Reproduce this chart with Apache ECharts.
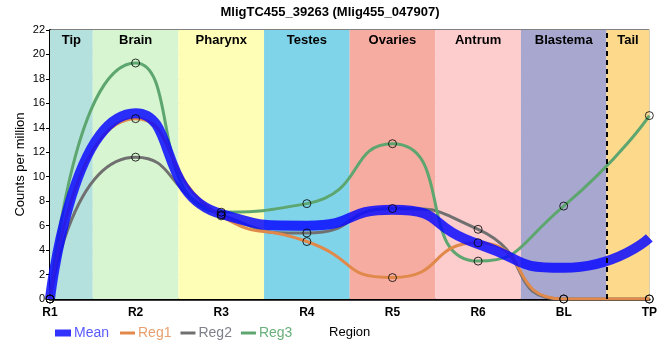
<!DOCTYPE html>
<html><head><meta charset="utf-8">
<script src="https://cdn.jsdelivr.net/npm/echarts@6/dist/echarts.min.js"></script>
<style>html,body{margin:0;padding:0;background:#fff}#c{width:660px;height:360px}</style>
</head><body><div id="c"></div>
<script>
var categories = ['R1','R2','R3','R4','R5','R6','BL','TP'];
var meanVals = [0, 15.2, 6.95, 6.0, 7.3, 4.5, 2.55, 5.0];
var reg1Vals = [0, 14.75, 6.8, 4.7, 1.75, 4.6, 0, 0];
var reg2Vals = [0, 11.6, 6.9, 5.4, 7.4, 5.7, 0, 0];
var reg3Vals = [0, 19.3, 7.1, 7.8, 12.7, 3.1, 7.6, 15.0];
var regionNames = ['Tip','Brain','Pharynx','Testes','Ovaries','Antrum','Blastema','Tail'];
var regionStarts = [0, 0.5, 1.5, 2.5, 3.5, 4.5, 5.5, 6.5];
var regionEnds = [0.5, 1.5, 2.5, 3.5, 4.5, 5.5, 6.5, 7];
var regionColors = ['#b4e1de','#d7f5d0','#fefeb6','#80d4ea','#f6aca0','#fdcccd','#a8a7cf','#fdd98c'];
var yTicks = {min: 0, max: 22, interval: 2};

function pairs(arr){ return arr.map(function(v,i){ return [i, v]; }); }

var font = 'Liberation Sans, Arial, sans-serif';
var SMOOTH = 0.62;
var bands = regionNames.map(function(n,i){
  return [{name: n, xAxis: regionStarts[i], itemStyle:{color: regionColors[i]}}, {xAxis: regionEnds[i]}];
});

var chart = echarts.init(document.getElementById('c'));
chart.setOption({
  animation: false,
  textStyle: {fontFamily: font},
  title: {text: 'MligTC455_39263 (Mlig455_047907)', left: 'center', top: 1,
    textStyle: {fontSize: 13, fontWeight: 'bold', color: '#000', fontFamily: font}},
  grid: {left: 50, right: 9, top: 30, bottom: 61, show: true, borderColor: '#000', borderWidth: 1, backgroundColor: 'transparent'},
  legend: [
    {left: 50, top: 321, itemWidth: 16, itemHeight: 7, itemGap: 10, icon: 'rect', selectedMode: false,
     textStyle: {fontSize: 14, fontFamily: font, padding: [0, 0, 0, -2]},
     data: [{name: 'Mean', textStyle: {color: '#5a5aff'}}]},
    {left: 115, top: 321, itemWidth: 15, itemHeight: 3, icon: 'rect', itemGap: 9, selectedMode: false,
     textStyle: {fontSize: 14, fontFamily: font, padding: [0, 0, 0, -2]},
     data: [{name: 'Reg1', textStyle: {color: '#e8a070'}}, {name: 'Reg2', textStyle: {color: '#80808c'}}, {name: 'Reg3', textStyle: {color: '#6ab07a'}}]}
  ],
  xAxis: {type: 'value', min: 0, max: 7, interval: 1, name: 'Region', nameLocation: 'middle', nameGap: 27,
    nameTextStyle: {color: '#000', fontSize: 13, fontFamily: font},
    axisLine: {lineStyle: {color: '#000', width: 2.5}},
    axisTick: {show: false},
    axisLabel: {color: '#000', fontSize: 12, fontWeight: 'bold', margin: 8, formatter: function(v){ return categories[v] || ''; }},
    splitLine: {show: true, lineStyle: {color: '#c8c8c8', width: 1}}},
  yAxis: {type: 'value', min: yTicks.min, max: yTicks.max, interval: yTicks.interval,
    name: 'Counts per million', nameLocation: 'middle', nameGap: 23, nameMoveOverlap: false,
    nameTextStyle: {color: '#000', fontSize: 13, fontFamily: font},
    axisLine: {show: true, lineStyle: {color: '#000', width: 2}},
    axisTick: {show: true, length: 4, lineStyle: {color: '#000'}},
    axisLabel: {color: '#000', fontSize: 11, margin: 5},
    splitLine: {show: true, lineStyle: {color: '#c8c8c8', width: 1}}},
  series: [
    {type: 'line', name: 'bands', data: [], z: -1, silent: true,
     markArea: {silent: true, label: {show: true, position: 'insideTop', distance: 4, color: '#000', fontSize: 13, fontWeight: 'bold', fontFamily: font}, data: bands},
     markLine: {silent: true, symbol: 'none', label: {show: false}, lineStyle: {color: '#000', type: [5, 4], width: 2}, data: [{xAxis: 6.5}]}},
    {type: 'line', name: 'Reg2', data: pairs(reg2Vals), smooth: SMOOTH, showSymbol: false, z: 2,
     itemStyle: {color: '#707070'}, lineStyle: {color: '#707070', width: 3}},
    {type: 'line', name: 'Reg3', data: pairs(reg3Vals), smooth: SMOOTH, showSymbol: false, z: 2,
     itemStyle: {color: '#5ea66f'}, lineStyle: {color: '#5ea66f', width: 3}},
    {type: 'line', name: 'Reg1', data: pairs(reg1Vals), smooth: SMOOTH, showSymbol: false, z: 2,
     itemStyle: {color: '#e0894a'}, lineStyle: {color: '#e0894a', width: 3}},
    {type: 'line', name: 'Mean', data: pairs(meanVals), smooth: SMOOTH, showSymbol: false, z: 3,
     itemStyle: {color: '#3333ff'}, lineStyle: {color: 'rgba(10,10,255,0.85)', width: 10}},
    {type: 'scatter', name: 'm1', data: pairs(reg1Vals), z: 5, symbolSize: 8, silent: true,
     itemStyle: {color: 'rgba(0,0,0,0)', borderColor: '#000', borderWidth: 1}},
    {type: 'scatter', name: 'm2', data: pairs(reg2Vals), z: 5, symbolSize: 8, silent: true,
     itemStyle: {color: 'rgba(0,0,0,0)', borderColor: '#000', borderWidth: 1}},
    {type: 'scatter', name: 'm3', data: pairs(reg3Vals), z: 5, symbolSize: 8, silent: true,
     itemStyle: {color: 'rgba(0,0,0,0)', borderColor: '#000', borderWidth: 1}}
  ]
});
</script></body></html>
